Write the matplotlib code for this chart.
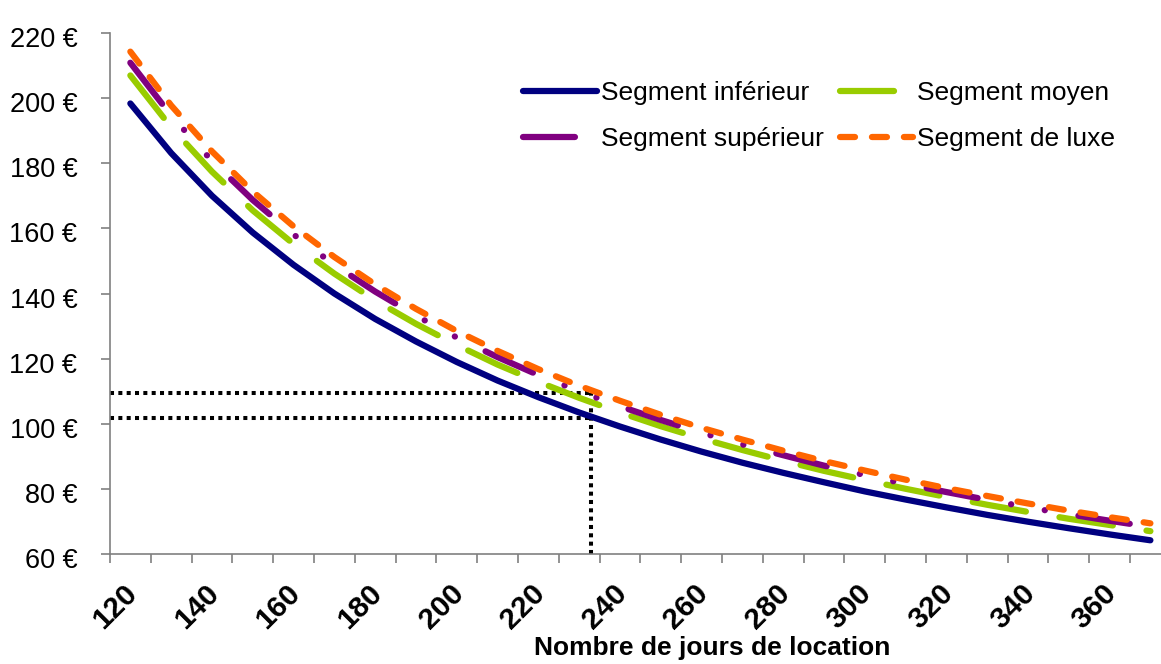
import numpy as np
import matplotlib
matplotlib.use("Agg")
import matplotlib.pyplot as plt
from matplotlib.transforms import ScaledTranslation

# ----------------------------------------------------
# Data
# ----------------------------------------------------

jours = list(range(120, 371, 10))

seg_inferieur = [198.3, 183.1, 170.0, 158.7, 148.8, 140.0, 132.2, 125.3, 119.0,
                 113.3, 108.2, 103.5, 99.2, 95.2, 91.5, 88.1, 85.0, 82.1, 79.3,
                 76.8, 74.4, 72.1, 70.0, 68.0, 66.1, 64.3]

seg_moyen = [206.9, 191.0, 177.4, 165.5, 155.2, 146.1, 137.9, 130.7, 124.2,
             118.2, 112.9, 108.0, 103.5, 99.3, 95.5, 92.0, 88.7, 85.6, 82.8,
             80.1, 77.6, 75.2, 73.0, 70.9, 69.0, 67.1]

seg_superieur = [210.8, 194.6, 180.7, 168.7, 158.1, 148.8, 140.6, 133.2, 126.5,
                 120.5, 115.0, 110.0, 105.4, 101.2, 97.3, 93.7, 90.4, 87.2, 84.3,
                 81.6, 79.1, 76.7, 74.4, 72.3, 70.3, 68.4]

seg_luxe = [214.2, 197.7, 183.6, 171.3, 160.6, 151.2, 142.8, 135.3, 128.5,
            122.4, 116.8, 111.7, 107.1, 102.8, 98.8, 95.2, 91.8, 88.6, 85.7,
            82.9, 80.3, 77.9, 75.6, 73.4, 71.4, 69.5]

# repere en pointilles
repere_jours = 233
repere_prix = [109.4, 101.9]

y_ticks = [60, 80, 100, 120, 140, 160, 180, 200, 220]
x_labels = list(range(120, 361, 20))

# ----------------------------------------------------
# Style
# ----------------------------------------------------

plt.rcParams["font.family"] = ["Liberation Sans", "DejaVu Sans"]
plt.rcParams["lines.scale_dashes"] = False

fig = plt.figure(figsize=(11.61, 6.64), dpi=100)
ax = fig.add_axes([0.0947, 0.1652, 0.9053, 0.7855])

lw = 4.5
dots = dict(color="black", lw=2.9, ls=(0, (2.9, 3.1)),
            dash_capstyle="butt", zorder=1)

# reference lines
ax.plot([115, repere_jours], [repere_prix[0]] * 2, **dots)
ax.plot([115, repere_jours], [repere_prix[1]] * 2, **dots)
ax.plot([repere_jours, repere_jours], [60, repere_prix[0]], **dots)

l_inf, = ax.plot(jours, seg_inferieur, color="#000080", lw=lw,
                 solid_capstyle="round", label="Segment inférieur", zorder=2)
l_moy, = ax.plot(jours, seg_moyen, color="#99CC00", lw=lw,
                 ls=(0, (38.9, 24.5)), dash_capstyle="round",
                 label="Segment moyen", zorder=3)
l_sup, = ax.plot(jours, seg_superieur, color="#800080", lw=lw,
                 ls=(0, (37.4, 24.5, 0.1, 24.5, 0.1, 24.5)),
                 dash_capstyle="round", label="Segment supérieur", zorder=4)
l_lux, = ax.plot(jours, seg_luxe, color="#FF6600", lw=lw,
                 ls=(0, (10.8, 12.2)), dash_capstyle="round",
                 label="Segment de luxe", zorder=5)

# ----------------------------------------------------
# Axes
# ----------------------------------------------------

ax.set_xlim(115, 372.6)
ax.set_ylim(60, 220)

for s in ["top", "right"]:
    ax.spines[s].set_visible(False)
for s in ["left", "bottom"]:
    ax.spines[s].set_color("#808080")
    ax.spines[s].set_linewidth(1.2)

ax.set_yticks(y_ticks)
ax.set_yticklabels([f"{v} €" for v in y_ticks], fontsize=19.5)
ax.tick_params(axis="y", length=6.5, width=1.2, color="#808080", pad=17)

ax.set_xticks(x_labels)
ax.set_xticklabels([str(v) for v in x_labels], fontsize=21.5,
                   fontweight="bold", rotation=45, ha="right", va="center",
                   rotation_mode="anchor")
ax.set_xticks(np.arange(115, 372, 10), minor=True)
ax.tick_params(axis="x", which="major", length=0, pad=25)
ax.tick_params(axis="x", which="minor", length=6.5, width=1.2,
               color="#808080")

for lab in ax.get_xticklabels():
    lab.set_transform(lab.get_transform() +
                      ScaledTranslation(0.025, 0, fig.dpi_scale_trans))
for lab in ax.get_yticklabels():
    lab.set_transform(lab.get_transform() +
                      ScaledTranslation(0, -0.04, fig.dpi_scale_trans))

fig.text(712 / 1161, 1 - 648 / 664, "Nombre de jours de location",
         fontsize=19, fontweight="bold", ha="center", va="center")

ax.legend(handles=[l_inf, l_sup, l_moy, l_lux], ncol=2, fontsize=19,
          frameon=False, loc="upper left",
          bbox_to_anchor=(523 / 1161, 1 - 81 / 664),
          bbox_transform=fig.transFigure, borderpad=0, borderaxespad=0,
          handlelength=2.8, handletextpad=0.15, columnspacing=0.6,
          labelspacing=0.85)

fig.savefig("out.png", dpi=100)
